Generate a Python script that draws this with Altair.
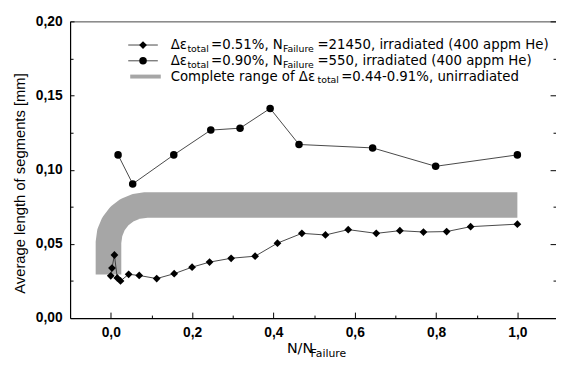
import altair as alt
import pandas as pd

# ---- data ----
dia_x = [0.0, 0.003, 0.009, 0.016, 0.024, 0.044, 0.070, 0.113, 0.156, 0.200, 0.243,
         0.296, 0.355, 0.410, 0.470, 0.528, 0.584, 0.653, 0.711, 0.769, 0.826, 0.885, 1.0]
dia_y = [0.0285, 0.0337, 0.0425, 0.0270, 0.0250, 0.0295, 0.0287, 0.0266, 0.0299, 0.0343, 0.0377,
         0.0403, 0.0417, 0.0505, 0.0571, 0.0560, 0.0596, 0.0571, 0.0589, 0.0580, 0.0583, 0.0616, 0.0633]

cir_x = [0.018, 0.054, 0.155, 0.246, 0.318, 0.392, 0.463, 0.644, 0.799, 1.0]
cir_y = [0.1100, 0.0904, 0.1100, 0.1267, 0.1280, 0.1413, 0.1170, 0.1147, 0.1023, 0.1100]

# centre line of the unirradiated scatter band
band_x = [-0.0056, -0.0056, -0.0024, 0.0068, 0.0213, 0.0405, 0.0628, 0.0865, 1.0]
band_y = [0.0294, 0.0510, 0.0575, 0.0636, 0.0688, 0.0728, 0.0753, 0.0762, 0.0762]

x_major = [0.0, 0.2, 0.4, 0.6, 0.8, 1.0]
x_minor = [round(i * 0.1, 1) for i in range(11)]
y_major = [0.0, 0.05, 0.10, 0.15, 0.20]
y_minor = [round(i * 0.025, 3) for i in range(9)]

y_title = "Average length of segments [mm]"
legend_rows = [
    ["Δε", "total", "=0.51%, N", "Failure", "=21450, irradiated (400 appm He)"],
    ["Δε", "total", "=0.90%, N", "Failure", "=550, irradiated (400 appm He)"],
    ["Complete range of Δε", "total", "=0.44-0.91%, unirradiated"],
]
x_title = ["N/N", "Failure"]

# ---- layout (pixels relative to plot origin) ----
W, H = 493, 301
XD = [-0.1, 1.095]
YD = [0.0, 0.2]
FONT_AX = "Liberation Sans"
FONT_LG = "DejaVu Sans"

dia = pd.DataFrame({"x": dia_x, "y": dia_y, "o": range(len(dia_x))})
cir = pd.DataFrame({"x": cir_x, "y": cir_y, "o": range(len(cir_x))})
band = pd.DataFrame({"x": band_x, "y": band_y, "o": range(len(band_x))})


def xs(axis):
    return alt.X("x:Q", scale=alt.Scale(domain=XD, nice=False, zero=False), axis=axis)


def ys(axis):
    return alt.Y("y:Q", scale=alt.Scale(domain=YD, nice=False, zero=False), axis=axis)


ax_x_labels = alt.Axis(orient="bottom", values=x_major,
                       labelExpr="replace(format(datum.value, '.1f'), '.', ',')",
                       ticks=False, tickSize=0, domain=True, domainColor="black", domainWidth=1.2,
                       grid=False, title=None, labelFont=FONT_AX, labelFontWeight="bold",
                       labelFontSize=14, labelPadding=8, labelColor="black")
ax_x_ticks = alt.Axis(orient="top", offset=-H, values=x_minor, labels=False, domain=False,
                      tickSize={"condition": {"test": "round(datum.value*10) % 2 == 0", "value": 6}, "value": 3},
                      tickColor="black", grid=False, title=None)
ax_x_top = alt.Axis(orient="top", ticks=False, labels=False, domain=True, domainColor="#555",
                    grid=False, title=None)

ax_y_labels = alt.Axis(orient="left", values=y_major,
                       labelExpr="replace(format(datum.value, '.2f'), '.', ',')",
                       ticks=False, tickSize=0, domain=True, domainColor="black", domainWidth=1.2,
                       grid=False, labelFont=FONT_AX, labelFontWeight="bold", labelFontSize=14,
                       labelPadding=8, labelColor="black",
                       title=y_title, titleFont=FONT_AX, titleFontSize=15, titleFontWeight="normal",
                       titleColor="black", titleAngle=-90, titleX=-51, titleY=164,
                       titleAlign="center", titleBaseline="middle")
ax_y_ticks_left = alt.Axis(orient="right", offset=-W, values=y_minor, labels=False, domain=False,
                           tickSize={"condition": {"test": "round(datum.value*1000) % 50 == 0", "value": 4}, "value": 3},
                           tickColor="black", grid=False, title=None)
ax_y_ticks_right = alt.Axis(orient="left", offset=-W, values=y_minor, labels=False, domain=False,
                            tickSize={"condition": {"test": "round(datum.value*1000) % 50 == 0", "value": 6}, "value": 3},
                            tickColor="black", grid=False, title=None)

band_layer = alt.Chart(band).mark_line(color="#a6a6a6", strokeWidth=26, strokeCap="butt",
                                       strokeJoin="round").encode(
    x=xs(ax_x_labels), y=ys(ax_y_labels), order="o:Q")
dia_line = alt.Chart(dia).mark_line(color="#333", strokeWidth=0.9).encode(
    x=xs(ax_x_ticks), y=ys(ax_y_ticks_left), order="o:Q")
cir_line = alt.Chart(cir).mark_line(color="#333", strokeWidth=0.9).encode(
    x=xs(ax_x_top), y=ys(ax_y_ticks_right), order="o:Q")
dia_pts = alt.Chart(dia).mark_point(shape="diamond", filled=True, color="black", size=62,
                                    opacity=1).encode(x=xs(None), y=ys(None))
cir_pts = alt.Chart(cir).mark_point(shape="circle", filled=True, color="black", size=58,
                                    opacity=1).encode(x=xs(None), y=ys(None))

layers = [band_layer, dia_line, cir_line, dia_pts, cir_pts]

# ---- legend symbols ----
row_y = [24, 40, 56]
one = pd.DataFrame({"k": [0]})
for i, shp in enumerate(["diamond", "circle"]):
    layers.append(alt.Chart(one).mark_rule(color="#333", strokeWidth=0.9).encode(
        x=alt.value(59), x2=alt.value(89), y=alt.value(row_y[i])))
    layers.append(alt.Chart(one).mark_point(shape=shp, filled=True, color="black",
                                            size=62 if shp == "diamond" else 58, opacity=1).encode(
        x=alt.value(74), y=alt.value(row_y[i])))
layers.append(alt.Chart(one).mark_rule(color="#a6a6a6", strokeWidth=4).encode(
    x=alt.value(61), x2=alt.value(92), y=alt.value(row_y[2])))

# ---- legend text pieces (x offsets, subscript flags) ----
row_layout = [
    [(102, False), (119, True), (143, False), (216, True), (251, False)],
    [(102, False), (119, True), (143, False), (216, True), (251, False)],
    [(102, False), (251, True), (275, False)],
]
MAIN, SUB, SUB_DY = 13.5, 9.5, 4


def txt(s, x, y, size, font=FONT_LG):
    return alt.Chart(one).mark_text(text=s, align="left", baseline="middle", font=font,
                                    fontSize=size, color="black").encode(
        x=alt.value(x), y=alt.value(y))


for r, pieces in enumerate(legend_rows):
    for s, (px, sub) in zip(pieces, row_layout[r]):
        if sub:
            layers.append(txt(s, px, row_y[r] + SUB_DY, SUB))
        else:
            layers.append(txt(s, px, row_y[r], MAIN))

# x-axis title with subscript
layers.append(txt(x_title[0], 220, 332, 14.5))
layers.append(txt(x_title[1], 244, 338, 11))

chart = alt.layer(*layers).resolve_scale(
    x="independent", y="independent").resolve_axis(
    x="independent", y="independent").properties(
    width=W, height=H, autosize="none",
    padding={"left": 63, "top": 11, "right": 0, "bottom": 40},
).configure_view(stroke=None).configure(background="white")

chart.save("out.html", embed_options={"renderer": "svg", "actions": False})
